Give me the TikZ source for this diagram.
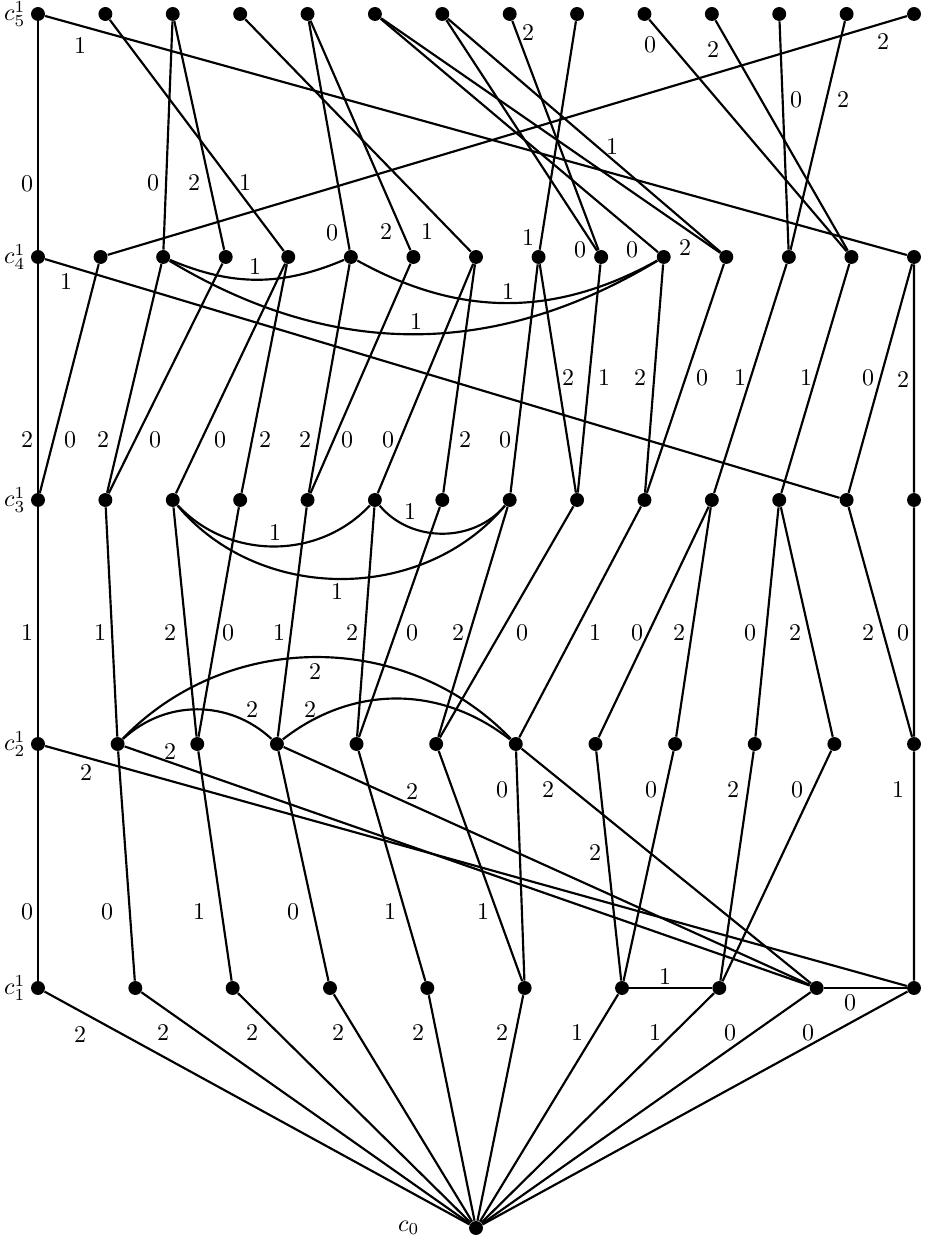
\documentclass[tikz,border=0pt]{standalone}
\begin{document}
\begin{tikzpicture}[x=0.41667pt,y=0.41667pt,
  dot/.style={circle,fill=black,inner sep=0pt,minimum size=5.8pt},
  edge/.style={line width=0.9pt},
  lab/.style={inner sep=0pt},
  rowlab/.style={anchor=east,inner sep=0.5pt}]
\useasboundingbox (0,0) rectangle (930,1242);
% nodes
\foreach \i in {1,...,14} \node[dot] (a\i) at ({38+(\i-1)*67.385},1228) {};
\foreach \i in {1,...,15} \node[dot] (b\i) at ({38+(\i-1)*62.571},985) {};
\foreach \i in {1,...,14} \node[dot] (d\i) at ({38+(\i-1)*67.385},742) {};
\foreach \i in {1,...,12} \node[dot] (e\i) at ({38+(\i-1)*79.636},498) {};
\foreach \i in {1,...,10} \node[dot] (f\i) at ({38+(\i-1)*97.333},254) {};
\node[dot] (z) at (476,14) {};
\node[rowlab] (l5) at ([xshift=-1.5pt]a1.west) {$c_5^1$};
\node[rowlab] (l4) at ([xshift=-1.5pt]b1.west) {$c_4^1$};
\node[rowlab] (l3) at ([xshift=-1.5pt]d1.west) {$c_3^1$};
\node[rowlab] (l2) at ([xshift=-1.5pt]e1.west) {$c_2^1$};
\node[rowlab] (l1) at ([xshift=-1.5pt]f1.west) {$c_1^1$};
\node[rowlab] (l0) at (421,14) {$c_0$};
\begin{scope}[edge]
% c5 -> c4
\draw (a1) -- (b1) node[lab] at (27,1058) {0};
\draw (a1) -- (b15) node[lab] at (80,1196) {1};
\draw (a2) -- (b5) node[lab] at (245,1059) {1};
\draw (a3) -- (b3) node[lab] at (153,1059) {0};
\draw (a3) -- (b4) node[lab] at (194,1059) {2};
\draw (a4) -- (b8) node[lab] at (427,1010) {1};
\draw (a5) -- (b6) node[lab] at (332,1009) {0};
\draw (a5) -- (b7) node[lab] at (386,1010) {2};
\draw (a6) -- (b11) node[lab] at (632,992) {0};
\draw (a6) -- (b12) node[lab] at (685,994) {2};
\draw (a7) -- (b10) node[lab] at (580,992) {0};
\draw (a7) -- (b12) node[lab] at (612,1095) {1};
\draw (a8) -- (b10) node[lab] at (528,1209) {2};
\draw (a9) -- (b9) node[lab] at (528,1004) {1};
\draw (a10) -- (b14) node[lab] at (650,1197) {0};
\draw (a11) -- (b14) node[lab] at (713,1192) {2};
\draw (a12) -- (b13) node[lab] at (796,1142) {0};
\draw (a13) -- (b13) node[lab] at (843,1142) {2};
\draw (a14) -- (b2) node[lab] at (883,1200) {2};
% c4 -> c3
\draw (b1) -- (d1) node[lab] at (27,802) {2};
\draw (b1) -- (d13) node[lab] at (66,960) {1};
\draw (b2) -- (d1) node[lab] at (70,802) {0};
\draw (b3) -- (d2) node[lab] at (103,802) {2};
\draw (b4) -- (d2) node[lab] at (155,802) {0};
\draw (b5) -- (d3) node[lab] at (220,802) {0};
\draw (b5) -- (d4) node[lab] at (265,802) {2};
\draw (b6) -- (d5) node[lab] at (305,802) {2};
\draw (b7) -- (d5) node[lab] at (347,802) {0};
\draw (b8) -- (d6) node[lab] at (388,802) {0};
\draw (b8) -- (d7) node[lab] at (465,802) {2};
\draw (b9) -- (d8) node[lab] at (505,802) {0};
\draw (b9) -- (d9) node[lab] at (568,864) {2};
\draw (b10) -- (d9) node[lab] at (604,864) {1};
\draw (b11) -- (d10) node[lab] at (640,864) {2};
\draw (b12) -- (d10) node[lab] at (702,864) {0};
\draw (b13) -- (d11) node[lab] at (740,864) {1};
\draw (b14) -- (d12) node[lab] at (806,864) {1};
\draw (b15) -- (d13) node[lab] at (868,864) {0};
\draw (b15) -- (d14) node[lab] at (903,862) {2};
\draw (b3) to[bend right=23] (b6) node[lab] at (255,975) {1};
\draw (b6) to[bend right=29] (b11) node[lab] at (508,950) {1};
\draw (b3) to[bend right=31] (b11) node[lab] at (416,920) {1};
% c3 -> c2
\draw (d1) -- (e1) node[lab] at (27,609) {1};
\draw (d2) -- (e2) node[lab] at (100,609) {1};
\draw (d3) -- (e3) node[lab] at (170,609) {2};
\draw (d4) -- (e3) node[lab] at (228,609) {0};
\draw (d5) -- (e4) node[lab] at (279,609) {1};
\draw (d6) -- (e5) node[lab] at (352,609) {2};
\draw (d7) -- (e5) node[lab] at (412,609) {0};
\draw (d8) -- (e6) node[lab] at (458,609) {2};
\draw (d9) -- (e6) node[lab] at (522,609) {0};
\draw (d10) -- (e7) node[lab] at (595,609) {1};
\draw (d11) -- (e8) node[lab] at (637,609) {0};
\draw (d11) -- (e9) node[lab] at (679,609) {2};
\draw (d12) -- (e10) node[lab] at (750,609) {0};
\draw (d12) -- (e11) node[lab] at (795,609) {2};
\draw (d13) -- (e12) node[lab] at (868,609) {2};
\draw (d14) -- (e12) node[lab] at (903,609) {0};
\draw (d3) to[bend right=47] (d6) node[lab] at (275,709) {1};
\draw (d3) to[bend right=50] (d8) node[lab] at (337,650) {1};
\draw (d6) to[bend right=50] (d8) node[lab] at (410,730) {1};
\draw (e2) to[bend left=43] (e4) node[lab] at (252,532) {2};
\draw (e4) to[bend left=38] (e7) node[lab] at (310,532) {2};
\draw (e2) to[bend left=46] (e7) node[lab] at (315,570) {2};
% c2 -> c1
\draw (e1) -- (f1) node[lab] at (27,330) {0};
\draw (e2) -- (f2) node[lab] at (107,330) {0};
\draw (e3) -- (f3) node[lab] at (199,330) {1};
\draw (e4) -- (f4) node[lab] at (293,330) {0};
\draw (e5) -- (f5) node[lab] at (390,330) {1};
\draw (e6) -- (f6) node[lab] at (483,330) {1};
\draw (e7) -- (f6) node[lab] at (502,452) {0};
\draw (e7) -- (f9) node[lab] at (548,452) {2};
\draw (e8) -- (f7) node[lab] at (595,389) {2};
\draw (e9) -- (f7) node[lab] at (651,452) {0};
\draw (e10) -- (f8) node[lab] at (733,452) {2};
\draw (e11) -- (f8) node[lab] at (797,452) {0};
\draw (e12) -- (f10) node[lab] at (898,452) {1};
\draw (e1) -- (f10) node[lab] at (86,469) {2};
\draw (e2) -- (f9) node[lab] at (170,490) {2};
\draw (e4) -- (f9) node[lab] at (412,450) {2};
\draw (f7) -- (f8) node[lab] at (665,265) {1};
\draw (f9) -- (f10) node[lab] at (850,239) {0};
% c1 -> c0
\draw (f1) -- (z) node[lab] at (80,207) {2};
\draw (f2) -- (z) node[lab] at (163,209) {2};
\draw (f3) -- (z) node[lab] at (252,209) {2};
\draw (f4) -- (z) node[lab] at (338,209) {2};
\draw (f5) -- (z) node[lab] at (418,209) {2};
\draw (f6) -- (z) node[lab] at (502,209) {2};
\draw (f7) -- (z) node[lab] at (577,209) {1};
\draw (f8) -- (z) node[lab] at (655,209) {1};
\draw (f9) -- (z) node[lab] at (730,209) {0};
\draw (f10) -- (z) node[lab] at (808,209) {0};
\end{scope}
\end{tikzpicture}
\end{document}
